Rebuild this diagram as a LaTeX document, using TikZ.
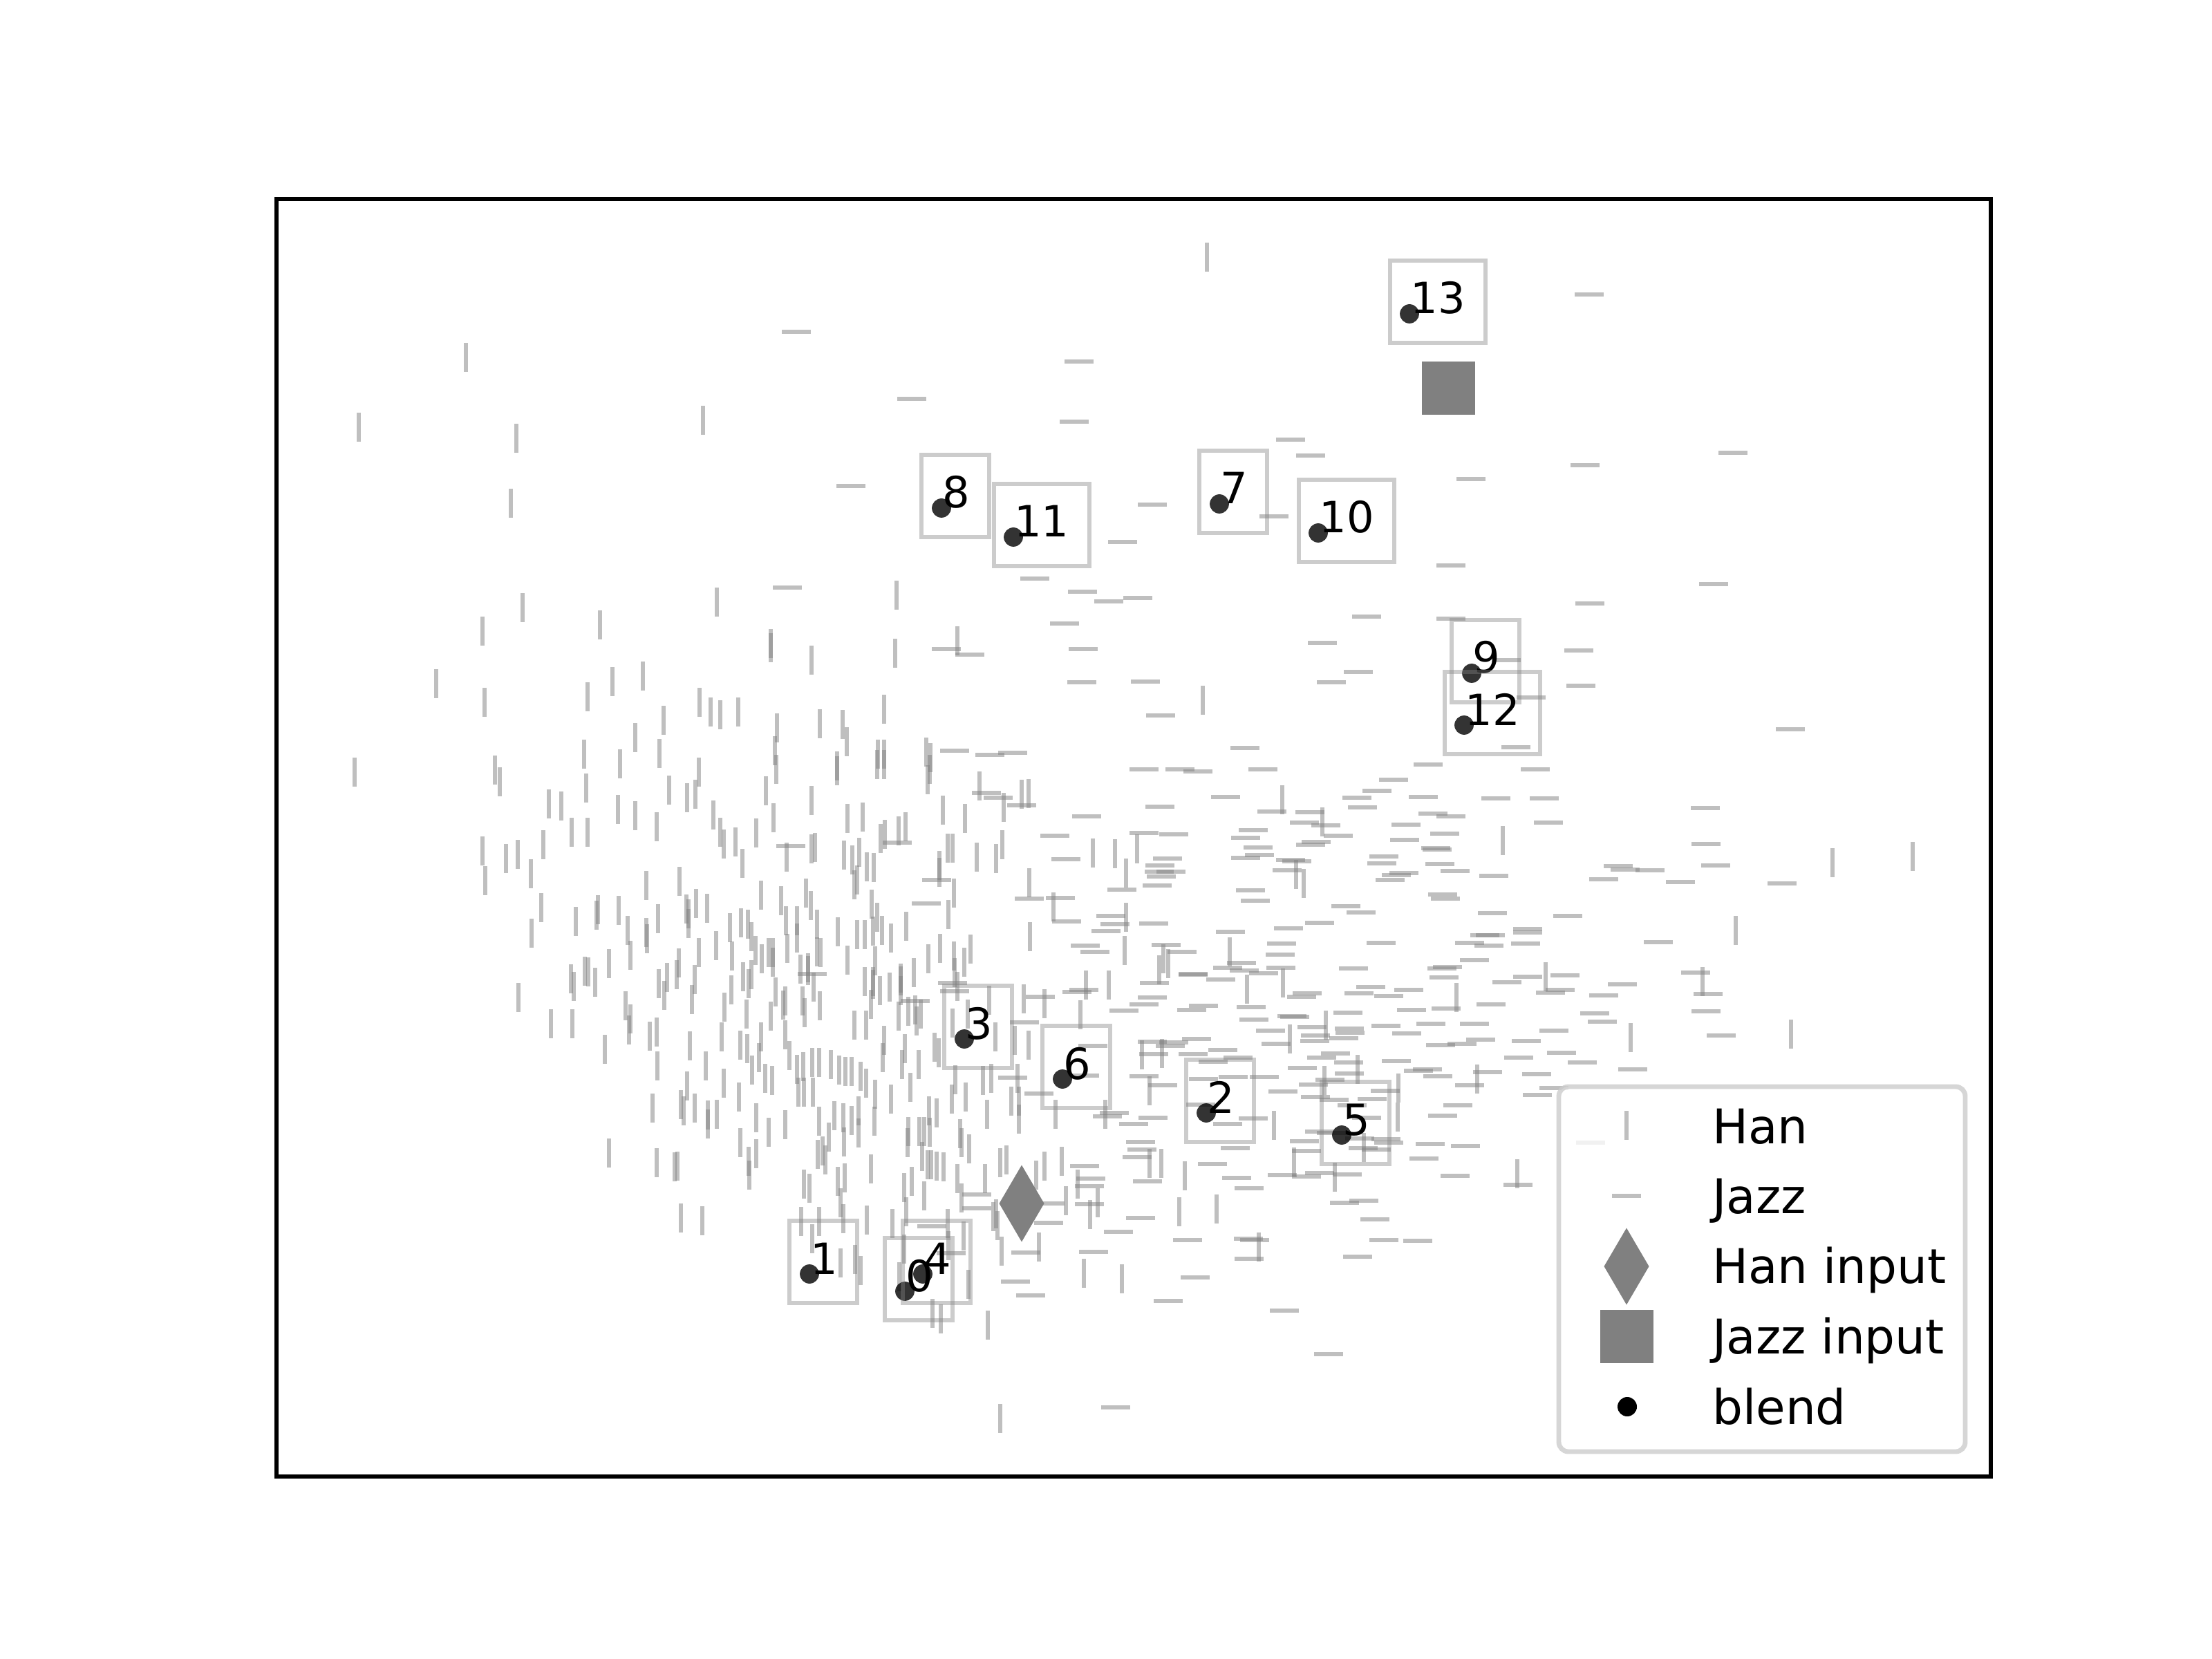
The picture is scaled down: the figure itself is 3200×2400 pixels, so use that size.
\documentclass[tikz,border=0pt]{standalone}
\usepackage{fontspec}
\setmainfont{DejaVu Sans}
\newcommand\lblfont{\fontsize{9pt}{10pt}\selectfont}
\newcommand\legfont{\fontsize{10pt}{12pt}\selectfont}
\tikzset{
  mkv/.style={draw=gray, draw opacity=0.5, line width=1pt},
  lblbox/.style={draw=gray, draw opacity=0.4, line width=1pt},
  lbl/.style={inner sep=0pt, anchor=base west, font=\lblfont},
  legtxt/.style={inner sep=0pt, anchor=base west, font=\legfont},
  blenddot/.style={fill=black, fill opacity=0.8},
  inputmk/.style={fill=gray},
  legframe/.style={draw=black!20, draw opacity=0.8, fill=white, fill opacity=0.8, line width=1pt, rounded corners=2pt},
}
\begin{document}
\begin{tikzpicture}[x=0.00508cm, y=-0.00508cm]
\useasboundingbox (0,0) rectangle (3200,2400);
% Han markers (vertical)
\foreach \x/\y in {674/517, 519/618, 747/634, 1017/608, 739/728, 1746/372, 1037/871, 1297/861, 756/879, 698/913, 868/904, 1115/931, 1115/937, 1174/955, 1295/945, 1385/927, 631/989, 701/1016, 850/1008, 886/986, 930/978, 1012/1016, 1028/1030, 1042/1034, 1068/1030, 960/1042, 1124/1053, 1186/1047, 1219/1048, 1279/1026, 1740/1013, 919/1067, 954/1090, 1121/1086, 1225/1073, 1340/1088, 1346/1096, 845/1091, 897/1105, 1270/1091, 1279/1091, 1211/1108, 1011/1117,
513/1117, 716/1114, 723/1131, 848/1140, 794/1163, 812/1166, 894/1171, 919/1180, 968/1143, 994/1154, 1006/1149, 1032/1179, 950/1196, 827/1204, 850/1204, 698/1231, 702/1274, 732/1242, 749/1236, 786/1222, 768/1264, 935/1281, 983/1275, 783/1313, 769/1350, 833/1333, 865/1316, 863/1324, 895/1317, 908/1346, 935/1349, 936/1358, 952/1329, 996/1322, 993/1315, 1007/1307, 1023/1314, 996/1336, 1036/1368, 1011/1378, 912/1382, 881/1394, 826/1416, 830/1427, 846/1405, 851/1406, 861/1421, 750/1443, 953/1423, 961/1440, 965/1414, 979/1410, 982/1393, 1005/1417, 1001/1446, 905/1455, 912/1474, 910/1490, 797/1481, 828/1481, 875/1518, 940/1499, 950/1493, 998/1513, 951/1542, 1021/1542, 994/1571, 985/1598, 989/1607, 1005/1603, 944/1603, 1024/1613, 1037/1612,
881/1668, 950/1682, 976/1688, 980/1687, 985/1762, 1016/1766,
1042/1204, 1047/1221, 1064/1218, 1074/1249, 1094/1205, 1108/1144, 1119/1183, 1123/1113, 1138/1240, 1174/1158, 1174/1228, 1179/1226, 1211/1115, 1221/1237, 1226/1184, 1233/1244, 1243/1233, 1248/1182, 1254/1254, 1264/1255, 1236/1280, 1240/1273, 1269/1106, 1279/1106, 1274/1213, 1280/1207, 1300/1202, 1310/1196, 1342/1128, 1345/1113, 1364/1172, 1371/1227, 1378/1227, 1359/1252, 1359/1262, 1396/1184, 1417/1137, 1413/1240, 1441/1242, 1450/1222, 1452/1168, 1478/1149, 1488/1148, 1380/1292, 1372/1323, 1489/1277, 1524/1312, 1490/1355, 1581/1234, 1613/1235, 1629/1263, 1645/1228, 1629/1327, 1627/1375,
1056/1342, 1059/1383, 1072/1335, 1082/1337, 1087/1355, 1093/1375, 1101/1295, 1102/1387, 1112/1378, 1118/1378, 1118/1392, 1130/1303, 1137/1332, 1139/1372, 1153/1332, 1153/1357, 1166/1292, 1173/1310, 1182/1337, 1182/1377, 1187/1378, 1212/1348, 1226/1389, 1240/1352, 1251/1352, 1261/1308, 1263/1347, 1269/1327, 1276/1346, 1289/1357, 1311/1340, 1266/1390, 1169/1400, 1169/1404, 1158/1402, 1075/1413, 1083/1423, 1058/1432, 1048/1457, 1044/1500, 1080/1467, 1101/1500, 1087/1410, 1115/1470, 1122/1435, 1133/1454, 1136/1448, 1161/1448, 1164/1465, 1177/1428, 1186/1455, 1236/1483, 1251/1420, 1253/1483, 1260/1453, 1263/1420, 1263/1424, 1273/1433, 1287/1428, 1303/1415, 1303/1419, 1303/1433, 1322/1407, 1300/1470, 1314/1463, 1324/1461, 1326/1477, 1332/1467, 1343/1387, 1360/1372, 1380/1383, 1381/1407, 1385/1427, 1395/1392, 1404/1373, 1352/1515, 1358/1523, 1378/1480, 1382/1562, 1400/1467, 1431/1447, 1440/1500, 1434/1560, 1422/1563, 1468/1505, 1472/1560, 1481/1445, 1488/1512, 1511/1452, 1563/1468, 1571/1425, 1604/1425, 1474/1593, 1463/1593, 1428/1612, 1397/1587, 1377/1590, 1355/1610, 1344/1607, 1289/1590, 1266/1583, 1253/1567, 1245/1557, 1232/1550, 1223/1550, 1214/1548, 1202/1540, 1185/1537, 1175/1537, 1176/1580, 1162/1543, 1163/1580, 1153/1547, 1155/1580, 1142/1527, 1136/1497, 1117/1563, 1107/1560, 1098/1530, 1088/1548, 1081/1517, 1071/1512, 1069/1587, 1047/1567, 1094/1617, 1136/1627, 1185/1622, 1207/1614, 1220/1617, 1232/1621, 1242/1607, 1242/1639, 1277/1530, 1279/1505, 1309/1517, 1305/1540, 1329/1540, 1317/1573,
1855/1157, 1913/1189, 1875/1265, 1886/1278, 2174/1216, 1683/1387, 1690/1394, 1677/1403, 1779/1377, 1804/1431, 1856/1422, 2107/1443, 2236/1413, 1866/1503, 1918/1483, 1964/1547, 1652/1526, 1681/1524, 1663/1578, 1916/1563, 2137/1561, 2023/1574, 2022/1616, 1843/1628,
2651/1248, 2767/1239, 2511/1346, 2463/1420, 2359/1501, 2591/1496,
1024/1626, 1071/1653, 1083/1680, 1084/1700, 1094/1669, 1112/1638, 1163/1713, 1171/1719, 1159/1767, 1175/1792, 1185/1767, 1183/1670, 1190/1665, 1194/1678, 1199/1645, 1221/1652, 1212/1709, 1216/1740, 1222/1704, 1220/1763, 1216/1827, 1237/1822, 1245/1838, 1254/1765, 1260/1691, 1265/1622, 1291/1770, 1301/1847, 1308/1718, 1311/1753, 1308/1807, 1313/1653, 1314/1637, 1319/1709, 1330/1637, 1334/1673, 1337/1730, 1337/1637, 1345/1638, 1342/1685, 1347/1685, 1355/1687, 1365/1688, 1371/1770, 1372/1802, 1385/1705, 1391/1733, 1391/1653, 1389/1640, 1402/1662, 1394/1788, 1401/1858, 1349/1900, 1361/1908, 1425/1705, 1429/1917, 1437/1760, 1441/1756, 1443/1773, 1447/1682, 1456/1678, 1449/1810, 1474/1619, 1447/2052, 1499/1700, 1503/1804, 1511/1687, 1527/1612, 1536/1680, 1542/1737, 1559/1713, 1568/1842, 1577/1757, 1588/1740, 1599/1612, 1623/1850,
1663/1683, 1680/1683, 1714/1701, 1706/1753, 1760/1749, 1821/1804, 1872/1681, 1931/1703, 2195/1698, 1973/1660}
  {\draw[mkv] (\x,\y) +(0,-20.85) -- +(0,20.85);}
% Jazz markers (horizontal)
\foreach \x/\y in {1152/480, 1561/523, 1319/577, 1554/610, 1231/703, 1624/784, 1139/850, 1497/837, 1566/856, 1604/870, 1540/902, 1369/939, 1403/947, 1567/939, 1565/987, 1381/1086, 1432/1092, 1465/1089,
2299/426, 1867/636, 1896/659, 2293/673, 2507/655, 2128/693, 1667/730, 1843/747, 2099/818, 2479/845, 1646/865, 2300/873, 1977/892, 2099/895, 1913/930, 2284/941, 1657/986, 1965/972, 1926/987, 2179/955, 2215/1009, 2287/992, 1679/1035, 2590/1055, 1801/1082, 2193/1081, 1655/1113, 1707/1113, 1733/1116, 1827/1113, 2066/1106, 2221/1113, 2016/1128, 1992/1144,
1427/1147, 1444/1154, 1478/1165, 1572/1181, 1526/1209, 1542/1243, 1623/1287, 1489/1300, 1534/1299, 1543/1333, 1607/1325, 1613/1337, 1600/1347, 1570/1368, 1584/1377, 1355/1273, 1340/1307, 1144/1224, 1298/1219, 1175/1409, 1378/1422, 1381/1434, 1324/1448, 1505/1442, 1568/1432, 1558/1435, 1626/1462, 1482/1479, 1581/1513, 1465/1559, 1503/1582, 1569/1556, 1612/1610, 1602/1615,
1773/1153, 1963/1154, 2059/1153, 2164/1155, 2234/1155, 1678/1167, 1971/1168, 1840/1174, 1895/1175, 2073/1177, 2099/1181, 1887/1190, 1918/1194, 2034/1193, 2240/1190, 1813/1201, 1655/1205, 1698/1207, 1802/1212, 1936/1209, 2090/1206, 2032/1215, 1904/1218, 1896/1222, 1820/1226, 2077/1227, 2079/1229, 1689/1242, 1822/1237, 1802/1241, 1867/1244, 1876/1246, 2002/1239, 1999/1249, 2083/1250, 1678/1252, 1677/1261, 1694/1261, 1680/1268, 1862/1259, 2031/1263, 2020/1266, 2011/1273, 2105/1260, 2161/1267, 1674/1281, 1809/1288, 1816/1303, 2087/1294, 2091/1300, 1947/1311, 1969/1320, 2159/1321, 2268/1325, 1669/1336, 1909/1335, 1864/1343, 1780/1348, 2210/1344, 2210/1349, 2156/1353, 2148/1353, 1687/1367, 1710/1377, 1854/1365, 1998/1364, 2126/1364, 2154/1368, 2207/1365, 1852/1381, 2133/1389, 1796/1393, 1776/1400, 1800/1404, 1853/1400, 1828/1408, 1726/1409, 1726/1410, 1958/1401, 2086/1401, 2094/1399, 1766/1417, 2089/1414, 2210/1413, 2180/1421, 2264/1411, 1670/1422, 1983/1428, 2038/1432, 2257/1432, 2243/1436, 1891/1437, 1883/1442, 1966/1437, 2009/1441, 1667/1443, 1655/1453, 1741/1455, 1724/1461, 1810/1457, 2042/1461, 2092/1459, 2157/1453, 1950/1465, 1869/1470, 1873/1471, 1814/1475, 2005/1484, 2070/1481, 2133/1481, 2248/1491, 1898/1486, 1952/1488, 1953/1494, 2035/1495, 1838/1491, 1903/1498, 1944/1502, 1902/1506, 1731/1503, 1698/1508, 1667/1507, 1693/1513, 1846/1510, 2084/1512, 2115/1510, 2142/1504, 2208/1506, 1669/1525, 1726/1525, 1769/1519, 1932/1524, 2259/1523, 1791/1530, 1912/1530, 2197/1530, 1755/1536, 1951/1537, 2020/1535, 1884/1545, 2065/1547, 2052/1549, 2152/1551, 1952/1553, 2080/1557, 2223/1554, 1655/1557, 1829/1558, 1784/1558, 1741/1561, 1924/1562, 1682/1570, 1900/1569, 2126/1570, 1856/1579, 2004/1578, 2224/1584, 2248/1574, 1903/1587, 1930/1591, 1985/1590, 1737/1598, 1956/1599, 2109/1599, 2087/1614, 1668/1617, 1977/1617, 1813/1618,
1640/1626, 1776/1626, 1787/1661, 1754/1684, 1660/1709, 1789/1704, 1807/1719, 1650/1652, 1652/1663, 1645/1674, 1887/1651, 1890/1665, 1909/1637, 1926/1639, 1967/1647, 2005/1648, 2009/1653, 1972/1661, 1991/1663, 1855/1700, 1890/1702, 1909/1697, 1949/1699, 2069/1655, 2120/1658, 2060/1676, 2105/1701, 2196/1714, 1945/1740, 1973/1737, 1650/1762, 1989/1764, 1718/1794, 1806/1792, 1815/1794, 2002/1794, 2051/1795, 1807/1821, 1964/1818, 1729/1848, 1690/1882, 1858/1896, 1922/1959,
1569/1687, 1578/1705, 1576/1716, 1576/1742, 1618/1782, 1582/1811, 1484/1812, 1469/1854, 1491/1874, 1517/1769, 1519/1741, 1413/1728, 1413/1748, 1348/1774, 1376/1813, 1614/2036,
2467/1169, 2468/1221, 2341/1253, 2351/1258, 2387/1259, 2482/1252, 2320/1272, 2431/1276, 2578/1278, 2399/1363, 2453/1407, 2347/1424, 2320/1440, 2471/1438, 2307/1466, 2318/1478, 2468/1463, 2490/1498, 2289/1537, 2362/1547, 2301/1653}
  {\draw[mkv] (\x,\y) +(-20.85,0) -- +(20.85,0);}
% inputs
\fill[inputmk] (1478,1741) +(0,-55.5) -- +(32.5,0) -- +(0,55.5) -- +(-32.5,0) -- cycle;
\fill[inputmk] (2057,523) rectangle (2134,600);
% blend points
\foreach \n/\x/\y in {0/1309/1868, 1/1171/1843, 2/1745/1610, 3/1395/1503, 4/1335/1843, 5/1941/1642, 6/1537/1561, 7/1764/729, 8/1362/735, 9/2129/974, 10/1907/771, 11/1466/777, 12/2118/1049, 13/2039/454}
  {\fill[blenddot] (\x,\y) circle (13.9);}
% labels
\foreach \n/\x/\y in {0/1309/1868, 1/1171/1843, 2/1745/1610, 3/1395/1503, 4/1335/1843, 5/1941/1642, 6/1537/1561, 7/1764/729, 8/1362/735, 9/2129/974}
  {\draw[lblbox] (\x,\y) +(-29,-77) rectangle +(69,42);
   \node[lbl] (t\n) at (\x,\y) {\n};}
\foreach \n/\x/\y in {10/1907/771, 11/1466/777, 12/2118/1049, 13/2039/454}
  {\draw[lblbox] (\x,\y) +(-28,-77) rectangle +(110,42);
   \node[lbl] (t\n) at (\x,\y) {\n};}
% axes frame
\draw[line width=0.8pt] (400,288) rectangle (2880,2136);
% legend
\path[legframe] (2255,1572) rectangle (2843,2100);
\draw[mkv] (2353,1628) +(0,-20.85) -- +(0,20.85);
\draw[mkv] (2353,1730) +(-20.85,0) -- +(20.85,0);
\fill[inputmk] (2353,1832) +(0,-55.5) -- +(32.5,0) -- +(0,55.5) -- +(-32.5,0) -- cycle;
\fill[inputmk] (2315,1895) rectangle (2392,1972);
\fill[black] (2354,2035) circle (14);
\node[legtxt] (lhan) at (2476,1654) {Han};
\node[legtxt] (ljazz) at (2476,1755) {Jazz};
\node[legtxt] (lhanin) at (2476,1856) {Han input};
\node[legtxt] (ljazzin) at (2476,1958) {Jazz input};
\node[legtxt] (lblend) at (2476,2060) {blend};
\end{tikzpicture}
\end{document}
